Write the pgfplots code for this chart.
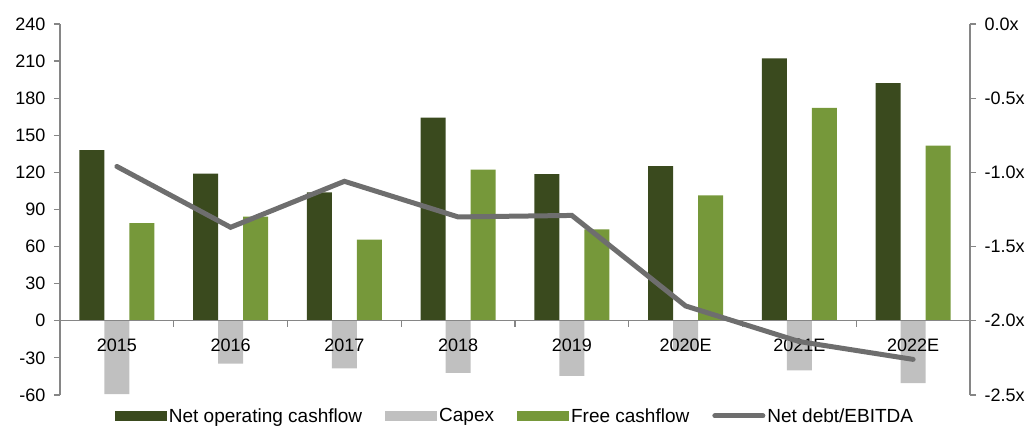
\documentclass[border=0pt]{standalone}
\usepackage{fontspec}
\setmainfont{Liberation Sans}
\usepackage{pgfplots}
\pgfplotsset{compat=1.18}
\definecolor{dkg}{HTML}{3A4A1E}
\definecolor{cap}{HTML}{C0C0C0}
\definecolor{fcf}{HTML}{76983A}
\definecolor{lin}{HTML}{6E6E6E}
\definecolor{axc}{HTML}{868686}
\begin{document}
\begin{tikzpicture}[x=1pt,y=1pt]
\useasboundingbox (0,0) rectangle (1029,428);
\begin{axis}[
  at={(60pt,33pt)}, anchor=south west,
  scale only axis, width=910pt, height=371pt,
  xmin=-0.5, xmax=7.5, ymin=-60, ymax=240,
  ytick={-60,-30,...,240},
  axis on top,
  axis y line*=left, axis x line*=middle,
  axis line style={-, draw=axc, line width=1.2pt},
  xtick={0,...,7},
  xticklabels={2015,2016,2017,2018,2019,2020E,2021E,2022E},
  minor xtick={0.5,1.5,...,6.5},
  major x tick style={draw=none},
  minor x tick style={draw=axc, line width=1.2pt},
  y tick style={draw=axc, line width=1.2pt},
  major tick length=6pt, minor tick length=6pt,
  tick align=outside,
  /pgf/number format/assume math mode=true,
  every tick label/.append style={font=\fontsize{18}{20}\selectfont},
  xticklabel style={yshift=-9pt},
  yticklabel style={xshift=-5pt},
  ybar=0pt, bar width=25pt,
  legend columns=4,
  legend style={at={(axis description cs:0.5,0)}, anchor=center, yshift=-21pt,
    draw=none, fill=none, font=\fontsize{19}{21}\selectfont,
    nodes={inner sep=2pt},
    /tikz/every even column/.append style={column sep=21pt}},
  legend image code/.code={\fill[#1] (0pt,-5pt) rectangle (52pt,5pt);},
]
\addplot[fill=dkg, draw=none] coordinates {(0,138) (1,119) (2,103.8) (3,164.3) (4,118.7) (5,125.1) (6,212.2) (7,192.2)};
\addlegendentry{Net operating cashflow}
\addplot[fill=cap, draw=none] coordinates {(0,-59.2) (1,-34.6) (2,-38.4) (3,-42.2) (4,-44.6) (5,-24.3) (6,-40) (7,-50.5)};
\addlegendentry{Capex}
\addplot[fill=fcf, draw=none] coordinates {(0,78.9) (1,84.3) (2,65.7) (3,122.2) (4,74) (5,101.4) (6,172.2) (7,141.7)};
\addlegendentry{Free cashflow}
\addlegendimage{legend image code/.code={\draw[lin, line width=5pt, line cap=round] (2pt,0pt) -- (50pt,0pt);}}
\addlegendentry{Net debt/EBITDA}
\end{axis}
\begin{axis}[
  at={(60pt,33pt)}, anchor=south west,
  scale only axis, width=910pt, height=371pt,
  xmin=-0.5, xmax=7.5, ymin=-2.5, ymax=0,
  ytick={-2.5,-2,...,0},
  axis y line*=right, axis x line=none,
  axis line style={-, draw=axc, line width=1.2pt},
  y tick style={draw=axc, line width=1.2pt},
  major tick length=6pt, tick align=outside,
  /pgf/number format/assume math mode=true,
  yticklabel={\pgfmathprintnumber[fixed,fixed zerofill,precision=1]{\tick}x},
  every tick label/.append style={font=\fontsize{18}{20}\selectfont},
  yticklabel style={xshift=5pt},
]
\addplot[lin, line width=5pt, line cap=round, mark=none] coordinates {(0,-0.96) (1,-1.37) (2,-1.06) (3,-1.30) (4,-1.29) (5,-1.90) (6,-2.14) (7,-2.26)};
\end{axis}
\end{tikzpicture}
\end{document}
